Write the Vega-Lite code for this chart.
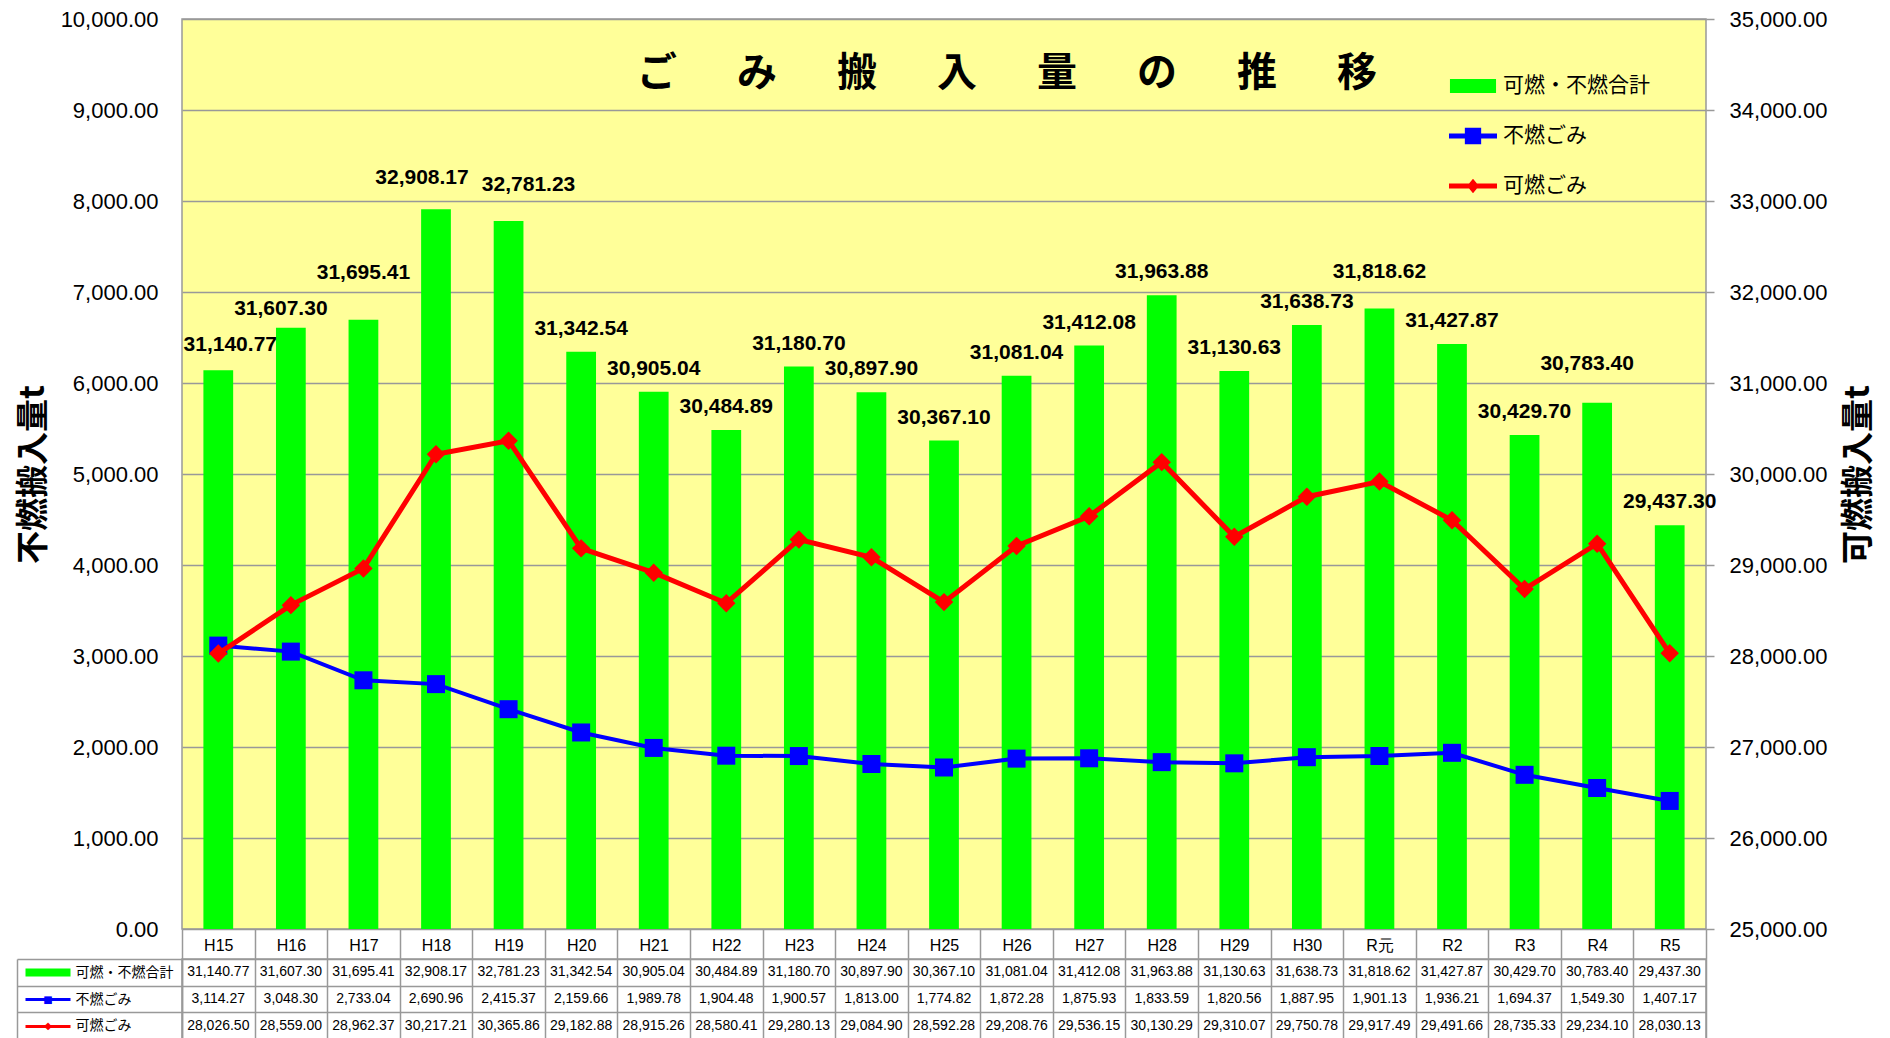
{
  "$schema": "https://vega.github.io/schema/vega-lite/v6.json",
  "padding": {"left": 15, "top": 7, "right": 12, "bottom": 0},
  "background": "white",
  "config": {"font": "Liberation Sans", "axis": {"labelColor": "black", "titleColor": "black"}},
  "data": {"values": [
    {"year": "H15", "total": 31140.77, "funen": 3114.27, "kanen": 28026.50, "可燃・不燃合計": 31140.77, "不燃ごみ": 3114.27, "可燃ごみ": 28026.50},
    {"year": "H16", "total": 31607.30, "funen": 3048.30, "kanen": 28559.00, "可燃・不燃合計": 31607.30, "不燃ごみ": 3048.30, "可燃ごみ": 28559.00},
    {"year": "H17", "total": 31695.41, "funen": 2733.04, "kanen": 28962.37, "可燃・不燃合計": 31695.41, "不燃ごみ": 2733.04, "可燃ごみ": 28962.37},
    {"year": "H18", "total": 32908.17, "funen": 2690.96, "kanen": 30217.21, "可燃・不燃合計": 32908.17, "不燃ごみ": 2690.96, "可燃ごみ": 30217.21},
    {"year": "H19", "total": 32781.23, "funen": 2415.37, "kanen": 30365.86, "可燃・不燃合計": 32781.23, "不燃ごみ": 2415.37, "可燃ごみ": 30365.86},
    {"year": "H20", "total": 31342.54, "funen": 2159.66, "kanen": 29182.88, "可燃・不燃合計": 31342.54, "不燃ごみ": 2159.66, "可燃ごみ": 29182.88},
    {"year": "H21", "total": 30905.04, "funen": 1989.78, "kanen": 28915.26, "可燃・不燃合計": 30905.04, "不燃ごみ": 1989.78, "可燃ごみ": 28915.26},
    {"year": "H22", "total": 30484.89, "funen": 1904.48, "kanen": 28580.41, "可燃・不燃合計": 30484.89, "不燃ごみ": 1904.48, "可燃ごみ": 28580.41},
    {"year": "H23", "total": 31180.70, "funen": 1900.57, "kanen": 29280.13, "可燃・不燃合計": 31180.70, "不燃ごみ": 1900.57, "可燃ごみ": 29280.13},
    {"year": "H24", "total": 30897.90, "funen": 1813.00, "kanen": 29084.90, "可燃・不燃合計": 30897.90, "不燃ごみ": 1813.00, "可燃ごみ": 29084.90},
    {"year": "H25", "total": 30367.10, "funen": 1774.82, "kanen": 28592.28, "可燃・不燃合計": 30367.10, "不燃ごみ": 1774.82, "可燃ごみ": 28592.28},
    {"year": "H26", "total": 31081.04, "funen": 1872.28, "kanen": 29208.76, "可燃・不燃合計": 31081.04, "不燃ごみ": 1872.28, "可燃ごみ": 29208.76},
    {"year": "H27", "total": 31412.08, "funen": 1875.93, "kanen": 29536.15, "可燃・不燃合計": 31412.08, "不燃ごみ": 1875.93, "可燃ごみ": 29536.15},
    {"year": "H28", "total": 31963.88, "funen": 1833.59, "kanen": 30130.29, "可燃・不燃合計": 31963.88, "不燃ごみ": 1833.59, "可燃ごみ": 30130.29},
    {"year": "H29", "total": 31130.63, "funen": 1820.56, "kanen": 29310.07, "可燃・不燃合計": 31130.63, "不燃ごみ": 1820.56, "可燃ごみ": 29310.07},
    {"year": "H30", "total": 31638.73, "funen": 1887.95, "kanen": 29750.78, "可燃・不燃合計": 31638.73, "不燃ごみ": 1887.95, "可燃ごみ": 29750.78},
    {"year": "R元", "total": 31818.62, "funen": 1901.13, "kanen": 29917.49, "可燃・不燃合計": 31818.62, "不燃ごみ": 1901.13, "可燃ごみ": 29917.49},
    {"year": "R2", "total": 31427.87, "funen": 1936.21, "kanen": 29491.66, "可燃・不燃合計": 31427.87, "不燃ごみ": 1936.21, "可燃ごみ": 29491.66},
    {"year": "R3", "total": 30429.70, "funen": 1694.37, "kanen": 28735.33, "可燃・不燃合計": 30429.70, "不燃ごみ": 1694.37, "可燃ごみ": 28735.33},
    {"year": "R4", "total": 30783.40, "funen": 1549.30, "kanen": 29234.10, "可燃・不燃合計": 30783.40, "不燃ごみ": 1549.30, "可燃ごみ": 29234.10},
    {"year": "R5", "total": 29437.30, "funen": 1407.17, "kanen": 28030.13, "可燃・不燃合計": 29437.30, "不燃ごみ": 1407.17, "可燃ごみ": 28030.13}
  ]},
  "spacing": 30,
  "bounds": "flush",
  "resolve": {"scale": {"x": "independent", "color": "independent", "shape": "independent"}},
  "vconcat": [
    {
      "width": 1524,
      "height": 910,
      "view": {"fill": "#FFFF99", "stroke": "#999999", "strokeWidth": 1.5},
      "title": {
        "text": "ご\u3000\u2002み\u3000\u2002搬\u3000\u2002入\u3000\u2002量\u3000\u2002の\u3000\u2002推\u3000\u2002移",
        "font": "Noto Sans CJK JP", "fontSize": 40, "fontWeight": "bold", "color": "black",
        "anchor": "middle", "frame": "group", "offset": -86, "dx": 63
      },
      "layer": [
        {
          "mark": {"type": "bar", "color": "#00FF00", "width": {"band": 0.41}},
          "encoding": {
            "x": {"field": "year", "type": "nominal", "sort": null, "title": null,
              "scale": {"paddingInner": 0, "paddingOuter": 0},
              "axis": {"orient": "bottom", "labelAngle": 0, "tickBand": "extent", "tickSize": 30, "tickColor": "#999999", "tickWidth": 1.5,
                "labelPadding": -22, "labelFont": "Liberation Sans", "labelFontSize": 16, "labelBaseline": "top", "domain": false, "grid": false}},
            "y": {"field": "total", "type": "quantitative", "title": "可燃搬入量t",
              "scale": {"domain": [25000, 35000], "zero": false, "nice": false},
              "axis": {"orient": "right", "values": [25000, 26000, 27000, 28000, 29000, 30000, 31000, 32000, 33000, 34000, 35000],
                "format": ",.2f", "grid": false, "domain": false, "ticks": true, "tickSize": 8, "tickColor": "#999999", "tickWidth": 1.5,
                "labelPadding": 15, "labelFont": "Liberation Sans", "labelFontSize": 22,
                "titleFont": "Noto Sans CJK JP", "titleFontSize": 33, "titleFontWeight": "bold", "titleAngle": 270, "titlePadding": 49}},
            "y2": {"datum": 25000}
          }
        },
        {
          "encoding": {
            "x": {"field": "year", "type": "nominal", "sort": null, "title": null},
            "y": {"field": "funen", "type": "quantitative", "title": "不燃搬入量t",
              "scale": {"domain": [0, 10000], "nice": false},
              "axis": {"orient": "left", "values": [0, 1000, 2000, 3000, 4000, 5000, 6000, 7000, 8000, 9000, 10000],
                "format": ",.2f", "grid": true, "gridColor": "#999999", "gridWidth": 1.5, "domain": false, "ticks": false,
                "labelPadding": 24, "labelFont": "Liberation Sans", "labelFontSize": 22,
                "titleFont": "Noto Sans CJK JP", "titleFontSize": 33, "titleFontWeight": "bold", "titlePadding": 10}}
          },
          "layer": [
            {"mark": {"type": "line", "color": "#0000FF", "strokeWidth": 4}},
            {"mark": {"type": "point", "shape": "square", "filled": true, "color": "#0000FF", "size": 324, "opacity": 1}}
          ]
        },
        {
          "encoding": {
            "x": {"field": "year", "type": "nominal", "sort": null, "title": null},
            "y": {"field": "total", "type": "quantitative", "scale": {"domain": [25000, 35000], "zero": false, "nice": false}, "axis": null},
            "text": {"field": "total", "type": "quantitative", "format": ",.2f"}
          },
          "layer": [
            {
              "mark": {"type": "line", "color": "#FF0000", "strokeWidth": 5},
              "encoding": {"y": {"field": "kanen", "type": "quantitative", "scale": {"domain": [25000, 35000], "zero": false, "nice": false}, "axis": null}}
            },
            {
              "mark": {"type": "point", "shape": "diamond", "filled": true, "color": "#FF0000", "size": 340, "opacity": 1},
              "encoding": {"y": {"field": "kanen", "type": "quantitative", "scale": {"domain": [25000, 35000], "zero": false, "nice": false}, "axis": null}}
            },
            {
              "transform": [{"filter": {"not": {"field": "year", "oneOf": ["H15", "H16", "H17", "H18", "H19", "R元", "R4"]}}}],
              "mark": {"type": "text", "font": "Liberation Sans", "fontSize": 21, "fontWeight": "bold", "baseline": "alphabetic", "dy": -17, "color": "black"}
            },
            {
              "transform": [{"filter": {"field": "year", "equal": "H15"}}],
              "mark": {"type": "text", "font": "Liberation Sans", "fontSize": 21, "fontWeight": "bold", "baseline": "alphabetic", "dy": -19, "dx": 12, "color": "black"}
            },
            {
              "transform": [{"filter": {"field": "year", "equal": "H16"}}],
              "mark": {"type": "text", "font": "Liberation Sans", "fontSize": 21, "fontWeight": "bold", "baseline": "alphabetic", "dy": -13, "dx": -10, "color": "black"}
            },
            {
              "transform": [{"filter": {"field": "year", "equal": "H17"}}],
              "mark": {"type": "text", "font": "Liberation Sans", "fontSize": 21, "fontWeight": "bold", "baseline": "alphabetic", "dy": -41, "color": "black"}
            },
            {
              "transform": [{"filter": {"field": "year", "equal": "H18"}}],
              "mark": {"type": "text", "font": "Liberation Sans", "fontSize": 21, "fontWeight": "bold", "baseline": "alphabetic", "dy": -25, "dx": -14, "color": "black"}
            },
            {
              "transform": [{"filter": {"field": "year", "equal": "H19"}}],
              "mark": {"type": "text", "font": "Liberation Sans", "fontSize": 21, "fontWeight": "bold", "baseline": "alphabetic", "dy": -30, "dx": 20, "color": "black"}
            },
            {
              "transform": [{"filter": {"field": "year", "equal": "R元"}}],
              "mark": {"type": "text", "font": "Liberation Sans", "fontSize": 21, "fontWeight": "bold", "baseline": "alphabetic", "dy": -31, "color": "black"}
            },
            {
              "transform": [{"filter": {"field": "year", "equal": "R4"}}],
              "mark": {"type": "text", "font": "Liberation Sans", "fontSize": 21, "fontWeight": "bold", "baseline": "alphabetic", "dy": -33, "dx": -10, "color": "black"}
            }
          ]
        },
        {
          "data": {"values": [{"系列": "可燃・不燃合計"}, {"系列": "不燃ごみ"}, {"系列": "可燃ごみ"}]},
          "mark": {"type": "point", "filled": true, "size": 0, "opacity": 1},
          "encoding": {
            "color": {"field": "系列", "type": "nominal", "sort": null,
              "scale": {"domain": ["可燃・不燃合計", "不燃ごみ", "可燃ごみ"], "range": ["#00FF00", "#0000FF", "#FF0000"]},
              "legend": {"title": null, "orient": "none", "legendX": 1267, "legendY": 43, "padding": 0, "symbolSize": 2304, "symbolStrokeWidth": 0, "symbolOpacity": 1,
                "labelFont": "Noto Sans CJK JP", "labelFontSize": 21, "labelColor": "black", "rowPadding": 16, "labelOffset": 6}},
            "shape": {"field": "系列", "type": "nominal", "sort": null,
              "scale": {"domain": ["可燃・不燃合計", "不燃ごみ", "可燃ごみ"],
                "range": ["M-0.96,-0.29H0.96V0.29H-0.96Z", "M-1,-0.1H1V0.1H-1Z M-0.34,-0.34H0.34V0.34H-0.34Z", "M-1,-0.1H1V0.1H-1Z M0,-0.3L0.25,0L0,0.3L-0.25,0Z"]},
              "legend": {"title": null, "orient": "none", "legendX": 1267, "legendY": 43, "padding": 0, "symbolSize": 2304, "symbolStrokeWidth": 0, "symbolOpacity": 1,
                "labelFont": "Noto Sans CJK JP", "labelFontSize": 21, "labelColor": "black", "rowPadding": 16, "labelOffset": 6}}
          }
        }
      ],
      "resolve": {"scale": {"y": "independent"}}
    },
    {
      "width": 1524,
      "height": 80,
      "view": {"fill": "white", "stroke": "#999999", "strokeWidth": 1.5},
      "transform": [{"fold": ["可燃・不燃合計", "不燃ごみ", "可燃ごみ"], "as": ["系列", "値"]}],
      "layer": [
        {
          "mark": {"type": "text", "font": "Liberation Sans", "fontSize": 14, "color": "black"},
          "encoding": {
            "x": {"field": "year", "type": "nominal", "sort": null, "title": null,
              "scale": {"paddingInner": 0, "paddingOuter": 0},
              "axis": {"orient": "bottom", "grid": true, "gridColor": "#999999", "gridWidth": 1.5, "tickBand": "extent", "labels": false, "ticks": false, "domain": false}},
            "y": {"field": "系列", "type": "nominal", "sort": ["可燃・不燃合計", "不燃ごみ", "可燃ごみ"], "title": null,
              "axis": {"orient": "left", "domain": true, "domainColor": "#999999", "domainWidth": 1.5, "ticks": true, "tickBand": "extent", "tickSize": 165,
                "tickColor": "#999999", "tickWidth": 1.5, "grid": true, "gridColor": "#999999", "gridWidth": 1.5,
                "labelAlign": "left", "labelBaseline": "middle", "labelPadding": -58, "labelFont": "Noto Sans CJK JP", "labelFontSize": 14}},
            "text": {"field": "値", "type": "quantitative", "format": ",.2f"}
          }
        },
        {
          "mark": {"type": "text", "text": " ", "opacity": 0},
          "encoding": {
            "y": {"field": "系列", "type": "nominal", "sort": ["可燃・不燃合計", "不燃ごみ", "可燃ごみ"], "title": null,
              "axis": {"orient": "left", "offset": 157, "domain": false, "grid": false, "ticks": true, "tickSize": -45, "tickCap": "butt",
                "tickColor": {"condition": [{"test": "datum.value == '可燃・不燃合計'", "value": "#00FF00"}, {"test": "datum.value == '不燃ごみ'", "value": "#0000FF"}], "value": "#FF0000"},
                "tickWidth": {"condition": {"test": "datum.value == '可燃・不燃合計'", "value": 8}, "value": 3},
                "labelExpr": "datum.value == '不燃ごみ' ? '■' : datum.value == '可燃ごみ' ? '◆' : ''",
                "labelAlign": "center", "labelBaseline": "middle", "labelPadding": 22.5, "labelFont": "DejaVu Sans", "labelFontSize": 10,
                "labelColor": {"condition": {"test": "datum.value == '不燃ごみ'", "value": "#0000FF"}, "value": "#FF0000"}}}
          }
        },
        {
          "mark": {"type": "text", "text": " ", "opacity": 0},
          "encoding": {
            "y": {"field": "系列", "type": "nominal", "sort": ["可燃・不燃合計", "不燃ごみ", "可燃ごみ"], "title": null,
              "axis": {"orient": "left", "offset": 165, "domain": true, "domainColor": "#999999", "domainWidth": 1.5, "grid": false, "ticks": false, "labels": false}}
          }
        }
      ],
      "resolve": {"scale": {"y": "independent"}}
    }
  ]
}
